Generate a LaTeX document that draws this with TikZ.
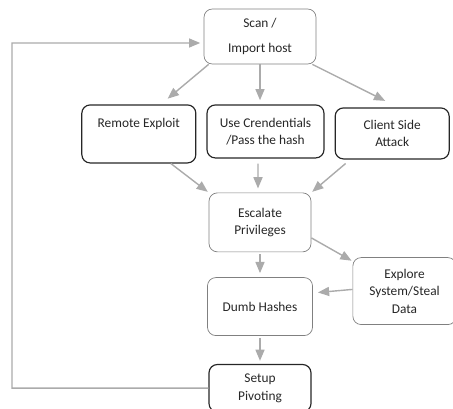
\documentclass[tikz,border=0pt]{standalone}
\usepackage{fontspec}
\setmainfont{Carlito}
\usepackage{tikz}
\usetikzlibrary{positioning, arrows}
\tikzset{
    >=triangle 45, % small filled arrow heads
    every node/.style={font=\fontsize{11.4}{15}\selectfont, text=black!85}, % text of every box
    softbox/.style={draw=black!50, line width=0.6pt, rounded corners=0.25cm, align=center}, % boxes with a grey frame
    hardbox/.style={draw=black!85, line width=1pt, rounded corners=0.25cm, align=center}, % boxes with a dark frame
    flow/.style={->, color=black!33, line width=1.2pt, shorten >=1pt}, % the grey connectors
}
\begin{document}
\begin{tikzpicture}
    \useasboundingbox (0,0) rectangle (13.59,-12.27);

    \node[softbox, minimum width=3.36cm, minimum height=1.65cm, font=\fontsize{11.4}{22}\selectfont] (scan) at (7.8,-1.095) {Scan /\\Import host};
    \node[hardbox, minimum width=3.51cm, minimum height=1.59cm, below=1.2cm of scan, xshift=0.165cm] (cred) {Use Crendentials\\/Pass the hash};
    \node[hardbox, minimum width=3.42cm, inner sep=0pt, text height=0.69cm, text depth=1.05cm, left=0.3cm of cred, yshift=-0.075cm] (remote) {Remote Exploit};
    \node[hardbox, minimum width=3.42cm, minimum height=1.53cm, right=0.3cm of cred, yshift=-0.06cm] (client) {Client Side\\Attack};
    \node[softbox, minimum width=3.06cm, minimum height=1.77cm, below=1.02cm of cred, xshift=-0.165cm] (escalate) {Escalate\\Privileges};
    \node[softbox, minimum width=3.15cm, minimum height=1.74cm, below=0.75cm of escalate] (dumb) {Dumb Hashes};
    \node[hardbox, minimum width=3.06cm, minimum height=1.42cm, below=0.84cm of dumb] (setup) {Setup\\Pivoting};
    \node[softbox, minimum width=3.1cm, minimum height=2.01cm, right=1.19cm of dumb, yshift=0.465cm] (explore) {Explore\\System/Steal\\Data};
    \coordinate (back) at (0.36,-1.29);

    \path[flow]
        ([xshift=0.15cm]scan.south west) edge ([xshift=0.84cm,yshift=0.15cm]remote.north)
        (scan.south) edge ([yshift=0.09cm]scan.south |- cred.north)
        ([xshift=-0.12cm]scan.south east) edge ([xshift=-0.18cm,yshift=0.18cm]client.north)
        ([xshift=0.96cm]remote.south) edge (escalate.north west)
        ([xshift=-0.225cm,yshift=-0.15cm]cred.south) edge ([xshift=-0.06cm,yshift=0.09cm]escalate.north)
        ([xshift=0.33cm,yshift=-0.12cm]client.south west) edge (escalate.north east)
        ([yshift=-0.465cm]escalate.east) edge ([yshift=-0.12cm]explore.north west)
        ([yshift=-0.06cm]escalate.south) edge ([yshift=0.09cm]escalate.south |- dumb.north)
        ([yshift=0.05cm]explore.west) edge ([xshift=0.12cm,yshift=0.42cm]dumb.east)
        ([yshift=-0.06cm]dumb.south) edge ([yshift=0.06cm]dumb.south |- setup.north);

    % the way back to the start
    \draw[flow, shorten >=3pt] (setup.west) -| (back) -- ([yshift=-0.195cm]scan.west);
\end{tikzpicture}
\end{document}
